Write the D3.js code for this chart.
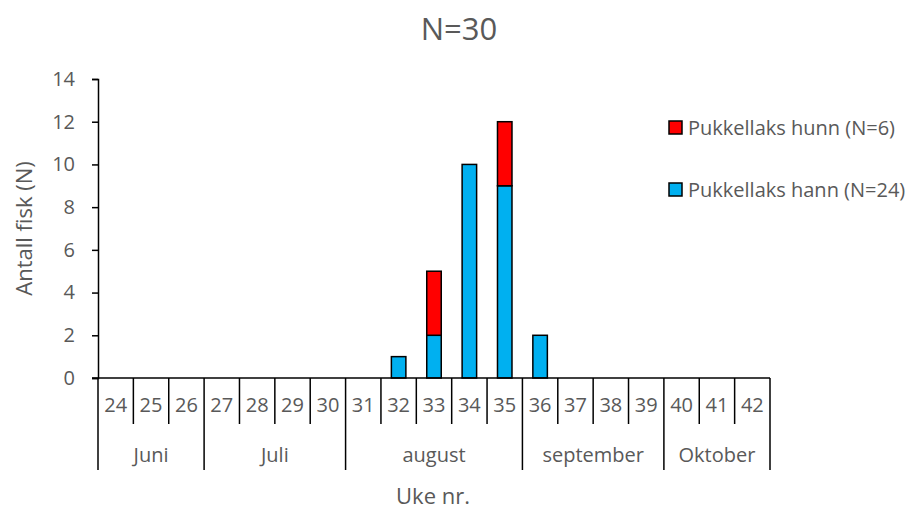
<!DOCTYPE html>
<html>
<head>
<meta charset="utf-8">
<script src="https://cdn.jsdelivr.net/npm/d3@7"></script>
<style>
  body { margin: 0; background: #fff; }
  text { font-family: "Open Sans", sans-serif; fill: #595959; }
</style>
</head>
<body>
<div id="chart"></div>
<script>
// data
var weeks = [24, 25, 26, 27, 28, 29, 30, 31, 32, 33, 34, 35, 36, 37, 38, 39, 40, 41, 42];
var hann = [0, 0, 0, 0, 0, 0, 0, 0, 1, 2, 10, 9, 2, 0, 0, 0, 0, 0, 0];
var hunn = [0, 0, 0, 0, 0, 0, 0, 0, 0, 3, 0, 3, 0, 0, 0, 0, 0, 0, 0];
var months = ["Juni", "Juli", "august", "september", "Oktober"];
var monthFirst = [24, 27, 31, 36, 40];
var monthLast = [26, 30, 35, 39, 42];
var yTicks = [0, 2, 4, 6, 8, 10, 12, 14];
var seriesNames = ["Pukkellaks hunn (N=6)", "Pukkellaks hann (N=24)"];
var seriesColors = ["#ff0000", "#00b0f0"];

// svg container
var svgWidth = 917;
var svgHeight = 510;

var margin = { top: 79, right: 147, bottom: 132, left: 98 };
var width = svgWidth - margin.left - margin.right;
var height = svgHeight - margin.top - margin.bottom;

var svg = d3.select("#chart")
  .append("svg")
  .attr("width", svgWidth)
  .attr("height", svgHeight);

var chartGroup = svg.append("g")
  .attr("transform", `translate(${margin.left}, ${margin.top})`);

// scales
var xScale = d3.scaleBand()
  .domain(weeks)
  .range([0, width])
  .padding(0);

var yScale = d3.scaleLinear()
  .domain([0, 14])
  .range([height, 0]);

var barW = xScale.bandwidth() * 0.41;

// y axis
var leftAxis = d3.axisLeft(yScale).tickValues(yTicks).tickSize(6).tickPadding(17);
var yAxis = chartGroup.append("g").call(leftAxis);
yAxis.select(".domain").attr("stroke", "#000").attr("stroke-width", 1.5);
yAxis.selectAll(".tick line").attr("stroke", "#000").attr("stroke-width", 1.5);
yAxis.selectAll(".tick text")
  .attr("fill", "#595959")
  .style("font-family", "'Open Sans', sans-serif")
  .style("font-size", "20px");

// stacked bars
var stacked = weeks.map(function(w, i) { return { week: w, hann: hann[i], hunn: hunn[i] }; });

var bars = chartGroup.append("g");
bars.selectAll("rect.hann")
  .data(stacked.filter(d => d.hann > 0))
  .enter()
  .append("rect")
  .attr("x", d => xScale(d.week) + (xScale.bandwidth() - barW) / 2)
  .attr("y", d => yScale(d.hann))
  .attr("width", barW)
  .attr("height", d => yScale(0) - yScale(d.hann))
  .attr("fill", seriesColors[1])
  .attr("stroke", "#000")
  .attr("stroke-width", 1.5);

bars.selectAll("rect.hunn")
  .data(stacked.filter(d => d.hunn > 0))
  .enter()
  .append("rect")
  .attr("x", d => xScale(d.week) + (xScale.bandwidth() - barW) / 2)
  .attr("y", d => yScale(d.hann + d.hunn))
  .attr("width", barW)
  .attr("height", d => yScale(d.hann) - yScale(d.hann + d.hunn))
  .attr("fill", seriesColors[0])
  .attr("stroke", "#000")
  .attr("stroke-width", 1.5);

// x axis line (extends left like the zero tick)
chartGroup.append("line")
  .attr("x1", -6).attr("x2", width)
  .attr("y1", height).attr("y2", height)
  .attr("stroke", "#000")
  .attr("stroke-width", 1.5);

// week dividers and labels
var weekLineLen = 46;
var monthLineLen = 92;
var dividers = weeks.map(w => xScale(w)).concat([width]);
chartGroup.append("g")
  .selectAll("line")
  .data(dividers)
  .enter()
  .append("line")
  .attr("x1", d => d).attr("x2", d => d)
  .attr("y1", height).attr("y2", height + weekLineLen)
  .attr("stroke", "#000")
  .attr("stroke-width", 1.5);

chartGroup.append("g")
  .selectAll("text")
  .data(weeks)
  .enter()
  .append("text")
  .attr("x", d => xScale(d) + xScale.bandwidth() / 2)
  .attr("y", height + 34)
  .attr("text-anchor", "middle")
  .style("font-size", "20px")
  .text(d => d);

// month groups
var monthEdges = monthFirst.map(w => xScale(w)).concat([width]);
chartGroup.append("g")
  .selectAll("line")
  .data(monthEdges)
  .enter()
  .append("line")
  .attr("x1", d => d).attr("x2", d => d)
  .attr("y1", height + weekLineLen).attr("y2", height + monthLineLen)
  .attr("stroke", "#000")
  .attr("stroke-width", 1.5);

chartGroup.append("g")
  .selectAll("text")
  .data(months)
  .enter()
  .append("text")
  .attr("x", (d, i) => (xScale(monthFirst[i]) + xScale(monthLast[i]) + xScale.bandwidth()) / 2)
  .attr("y", height + 84)
  .attr("text-anchor", "middle")
  .style("font-size", "20px")
  .text(d => d);

// title
svg.append("text")
  .attr("x", 459)
  .attr("y", 40)
  .attr("text-anchor", "middle")
  .style("font-size", "31px")
  .text("N=30");

// axis titles
svg.append("text")
  .attr("transform", "rotate(-90)")
  .attr("x", -(margin.top + height / 2))
  .attr("y", 32)
  .attr("text-anchor", "middle")
  .style("font-size", "22px")
  .text("Antall fisk (N)");

svg.append("text")
  .attr("x", 433)
  .attr("y", 504)
  .attr("text-anchor", "middle")
  .style("font-size", "22px")
  .text("Uke nr.");

// legend
var legend = svg.append("g")
  .attr("transform", "translate(669, 121)");
var items = legend.selectAll("g")
  .data(seriesNames)
  .enter()
  .append("g")
  .attr("transform", (d, i) => `translate(0, ${i * 62})`);
items.append("rect")
  .attr("width", 13).attr("height", 13)
  .attr("fill", (d, i) => seriesColors[i])
  .attr("stroke", "#000")
  .attr("stroke-width", 1.5);
items.append("text")
  .attr("x", 19)
  .attr("y", 14)
  .style("font-size", "20px")
  .text(d => d);
</script>
</body>
</html>
